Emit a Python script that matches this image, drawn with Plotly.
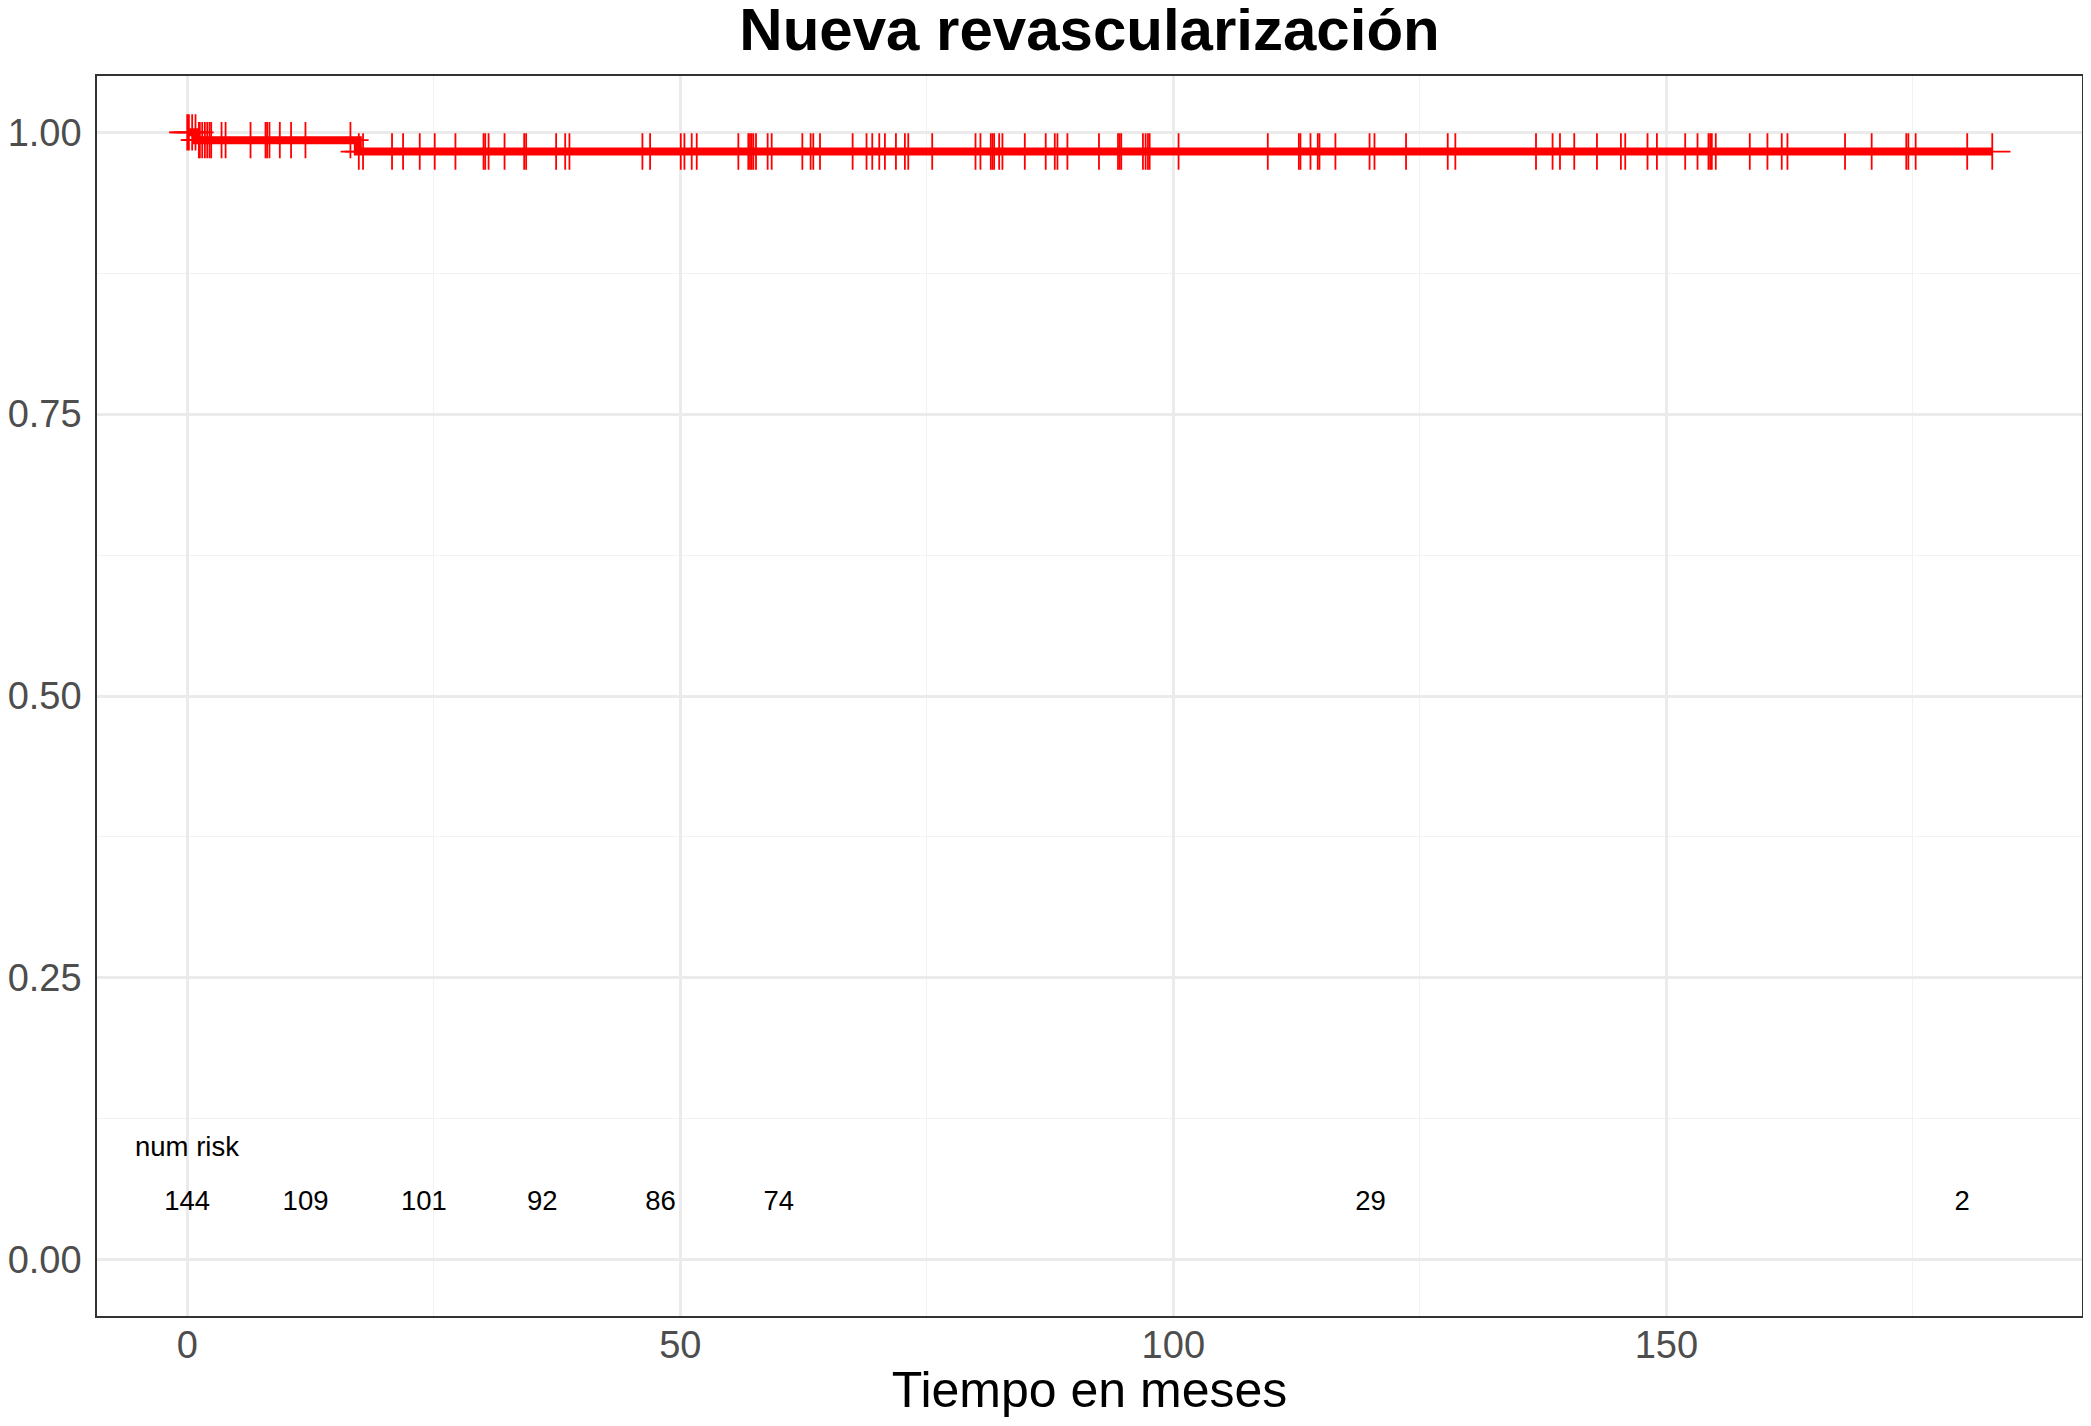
import numpy as np
import plotly.graph_objects as go

# Kaplan-Meier step: event times and survival just after each event
event_times = [0.9, 17.3]
surv_after = [0.9931, 0.983]

# censored observations (months)
censor_times = [
    0.0, 0.17, 0.5, 0.84,
    1.18, 1.28, 1.52, 1.79, 2.03, 2.26, 2.43, 3.48, 3.89, 6.42,
    7.94, 8.1, 8.34, 9.39, 10.53, 11.99, 16.55,
    17.4, 17.83, 20.77, 21.89, 23.58, 25.1, 27.2,
    30.05, 30.22, 30.56, 32.18, 34.17, 34.37, 37.41, 38.33, 38.76,
    46.16, 46.94, 50.05, 50.42, 51.16, 51.67, 55.89, 56.9, 57.07,
    57.24, 57.41, 57.68, 58.86, 59.27,
    62.38, 63.22, 63.49, 64.17, 67.48, 68.89, 69.47, 70.18, 70.75,
    71.87, 72.78, 73.12, 75.55, 79.94, 80.44, 81.49, 81.66, 81.83,
    82.34, 82.67, 84.94, 87.06, 87.98, 88.25, 89.26,
    92.46, 94.39, 94.56, 94.72, 96.92, 97.19, 97.43, 97.6, 100.53,
    109.58, 112.73, 112.89, 113.91, 114.65, 114.82, 116.44, 119.9, 120.4,
    123.6, 127.83, 128.6, 136.78, 138.46, 139.21, 140.66, 142.96,
    145.39, 145.83, 148.09, 149.04, 151.91,
    153.16, 154.27, 154.44, 154.61, 155.01, 158.46, 160.25, 161.7,
    162.28, 168.12, 170.82, 174.33, 174.54, 175.28, 180.51, 183.05,
]

# number at risk table
risk_times = [0, 12, 24, 36, 48, 60, 120, 180]
risk_counts = [144, 109, 101, 92, 86, 74, 29, 2]

title_text = "Nueva revascularización"
x_title = "Tiempo en meses"

RED = "#FF0000"
FONT = "Liberation Sans, Arial, sans-serif"

# the page body adds an 8px margin, so the figure is a bit smaller than the window
W, H = 2091 - 16, 1426 - 16

# build the step curve from the event data
curve_x = [0.0] + event_times + [max(censor_times)]
curve_y = [1.0] + surv_after + [surv_after[-1]]

# survival value at each censor time (right-continuous step)
levels = np.array([1.0] + surv_after)
idx = np.searchsorted(np.array(event_times), np.array(censor_times), side="right")
censor_y = levels[idx]

fig = go.Figure()

fig.add_trace(go.Scatter(
    x=curve_x, y=curve_y,
    mode="lines",
    line=dict(color=RED, width=8, shape="hv"),
    hoverinfo="skip",
    showlegend=False,
))

fig.add_trace(go.Scatter(
    x=censor_times, y=censor_y,
    mode="markers",
    marker=dict(symbol="cross-thin", size=26, line=dict(color=RED, width=1.8)),
    showlegend=False,
))

# risk table inside the panel
fig.add_trace(go.Scatter(
    x=risk_times, y=[0.05] * len(risk_times),
    mode="text",
    text=[str(v) for v in risk_counts],
    textfont=dict(family=FONT, size=27.5, color="black"),
    textposition="middle center",
    showlegend=False,
))
fig.add_annotation(
    x=0, y=0.1, text="num risk", showarrow=False,
    xanchor="center", yanchor="middle",
    font=dict(family=FONT, size=27.5, color="black"),
)

axis_common = dict(
    showline=True, mirror=True, linecolor="#333333", linewidth=1.5,
    ticks="", zeroline=False, automargin=False,
    gridcolor="#EBEBEB", gridwidth=2.5,
    tickfont=dict(family=FONT, size=38, color="#4D4D4D"),
)

fig.update_xaxes(
    range=[-9.15, 192.15],
    tickmode="array", tickvals=[0, 50, 100, 150],
    minor=dict(tickvals=[25, 75, 125, 175], showgrid=True,
               gridcolor="#F2F2F2", gridwidth=1.3, ticks=""),
    ticklabelstandoff=-5,
    title=dict(text=x_title, font=dict(family=FONT, size=50, color="black"),
               standoff=17),
    **axis_common,
)
fig.update_yaxes(
    range=[-0.05, 1.05],
    tickmode="array", tickvals=[0, 0.25, 0.5, 0.75, 1.0],
    tickformat=".2f",
    minor=dict(tickvals=[0.125, 0.375, 0.625, 0.875], showgrid=True,
               gridcolor="#F2F2F2", gridwidth=1.3, ticks=""),
    ticklabelstandoff=6,
    **axis_common,
)

fig.update_layout(
    width=W, height=H, autosize=False,
    margin=dict(l=89, r=1, t=68, b=102),
    paper_bgcolor="white", plot_bgcolor="white",
    title=dict(text=title_text, x=0.5, xref="paper", xanchor="center",
               y=1 - 21 / H, yref="container", yanchor="middle",
               automargin=False,
               font=dict(family=FONT, size=60, color="black", weight="bold")),
    showlegend=False,
)

fig.write_html("out.html")
